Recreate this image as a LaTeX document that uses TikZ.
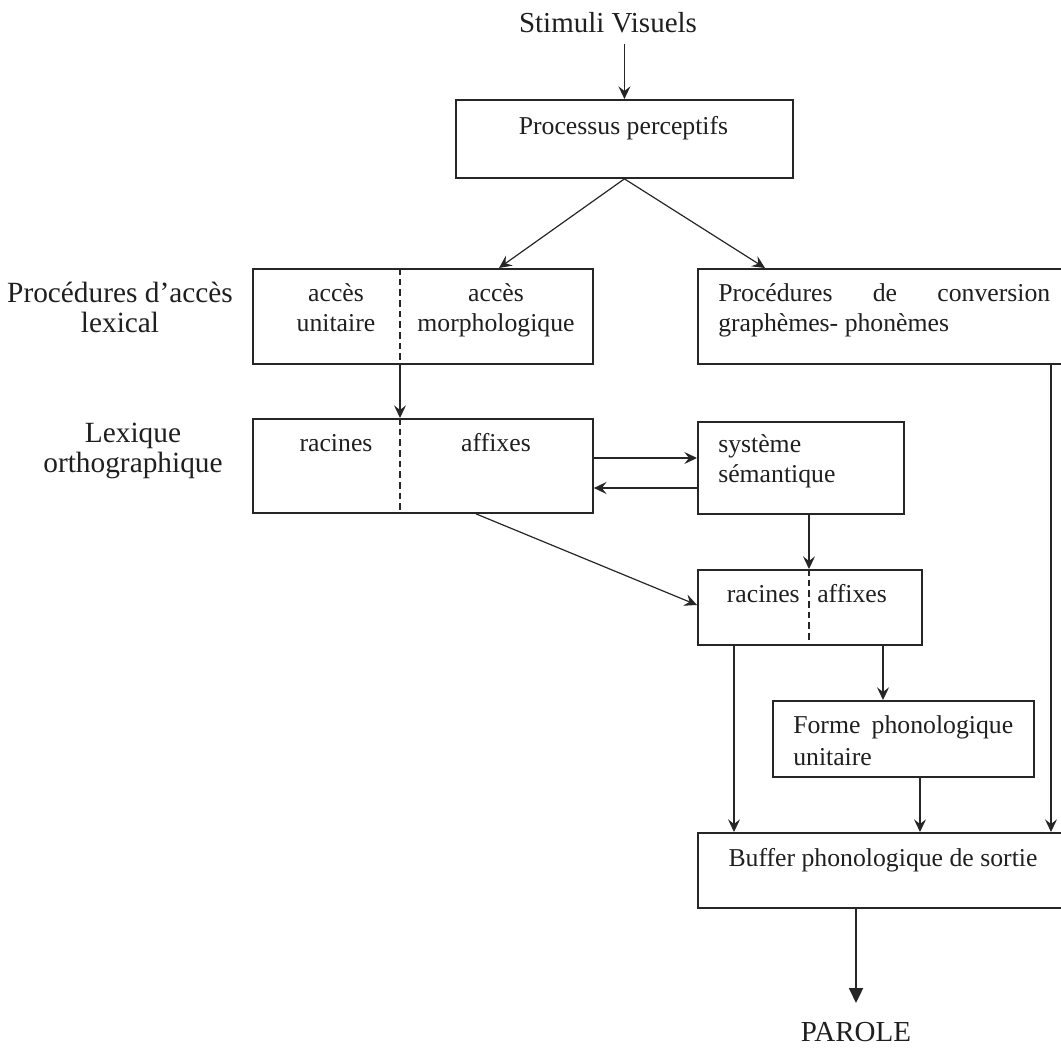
\documentclass[tikz,border=0pt]{standalone}
\usepackage{fontspec}
\setmainfont{Liberation Serif}
\usetikzlibrary{arrows.meta,calc}
\begin{document}
\begin{tikzpicture}[x=0.75pt,y=-0.75pt,
  box/.style={draw=black!85, line width=1.4pt, rectangle, inner sep=0pt, anchor=north west},
  txt/.style={inner sep=0pt, text=black!88, font=\fontsize{19.3pt}{22.5pt}\selectfont},
  lbl/.style={inner sep=0pt, text=black!88, font=\fontsize{22pt}{22.5pt}\selectfont, align=center, anchor=base},
  big/.style={inner sep=0pt, text=black!88, font=\fontsize{21.75pt}{22.5pt}\selectfont, anchor=base},
  arr/.style={draw=black!85, line width=0.9pt, -{Stealth[length=9.5pt,width=9pt,inset=3.5pt]}},
  bigarr/.style={draw=black!85, line width=1.4pt, -{Triangle[length=11pt,width=10.5pt]}},
  divider/.style={draw=black!85, line width=1.1pt, dash pattern=on 5pt off 3pt}]
\useasboundingbox (0,0) rectangle (1061,1048);

% boxes
\node[box, minimum width=252.75pt, minimum height=58.5pt] (pp) at (455,99) {};
\node[box, minimum width=255pt, minimum height=71.25pt] (acc) at (252,268) {};
\node[box, minimum width=274.5pt, minimum height=71.25pt] (conv) at (697,268) {};
\node[box, minimum width=255pt, minimum height=70.5pt] (lex) at (252,418) {};
\node[box, minimum width=154.5pt, minimum height=69pt] (sem) at (697,421) {};
\node[box, minimum width=168pt, minimum height=56.25pt] (rac) at (697,569) {};
\node[box, minimum width=195.75pt, minimum height=57pt] (forme) at (772,700) {};
\node[box, minimum width=274.5pt, minimum height=56.25pt] (buf) at (697,832) {};

% dashed dividers
\draw[divider] ($(acc.north west)+(148,0)$) -- ($(acc.south west)+(148,0)$);
\draw[divider] ($(lex.north west)+(148,0)$) -- ($(lex.south west)+(148,0)$);
\draw[divider] ($(rac.north west)+(112,0)$) -- ($(rac.south west)+(112,0)$);

% texts (multi-line nodes: base = baseline of last line)
\node[big] (stim) at (608,33) {Stimuli Visuels};
\node[txt, anchor=base] (pptxt) at (623.5,135) {Processus perceptifs};
\node[lbl] (lab1) at (120,333) {Procédures d’accès\\lexical};
\node[lbl] (lab2) at (133,473) {Lexique\\orthographique};
\node[txt, anchor=base, align=center] (acc1) at (336,332) {accès\\unitaire};
\node[txt, anchor=base, align=center] (acc2) at (496,332) {accès\\morphologique};
\node[txt, anchor=base west, align=left] (convtxt) at (718,332) {\makebox[249pt][s]{Procédures de conversion}\\graphèmes- phonèmes};
\node[txt, anchor=base] (rac1) at (336,452) {racines};
\node[txt, anchor=base] (aff1) at (496,452) {affixes};
\node[txt, anchor=base west, align=left] (semtxt) at (718,483) {système\\sémantique};
\node[txt, anchor=base east] (rac2) at (800,603) {racines};
\node[txt, anchor=base west] (aff2) at (817,603) {affixes};
\node[txt, anchor=base west, align=left, font=\fontsize{19.3pt}{24pt}\selectfont] (formetxt) at (793,765) {\makebox[165pt][s]{Forme phonologique}\\unitaire};
\node[txt, anchor=base] (buftxt) at (883,866) {Buffer phonologique de sortie};
\node[big] (parole) at (856,1041) {PAROLE};

% connectors
\draw[arr, shorten <=7.5pt] (stim.south -| pp.north) -- (pp.north);
\draw[arr] (pp.south) -- ($(acc.north west)+(247,0)$);
\draw[arr] (pp.south) -- ($(conv.north west)+(68,0)$);
\draw[arr] ($(acc.south west)+(148,0)$) -- ($(lex.north west)+(148,0)$);
\draw[arr] ($(lex.north east)+(0,40)$) -- ($(sem.north west)+(0,37)$);
\draw[arr] ($(sem.north west)+(0,67)$) -- ($(lex.north east)+(0,70)$);
\draw[arr] ($(lex.south west)+(224,0)$) -- ($(rac.north west)+(0,36)$);
\draw[arr] ($(sem.south west)+(112,0)$) -- ($(rac.north west)+(112,0)$);
\draw[arr] ($(rac.south west)+(37,0)$) -- ($(buf.north west)+(37,0)$);
\draw[arr] ($(rac.south west)+(186,0)$) -- ($(forme.north west)+(111,0)$);
\draw[arr] ($(forme.south west)+(148,0)$) -- ($(buf.north west)+(223,0)$);
\draw[arr] ($(conv.south west)+(354,0)$) -- ($(buf.north west)+(354,0)$);
\draw[bigarr, shorten >=14pt] ($(buf.south west)+(159,0)$) -- (parole.north);
\end{tikzpicture}
\end{document}
